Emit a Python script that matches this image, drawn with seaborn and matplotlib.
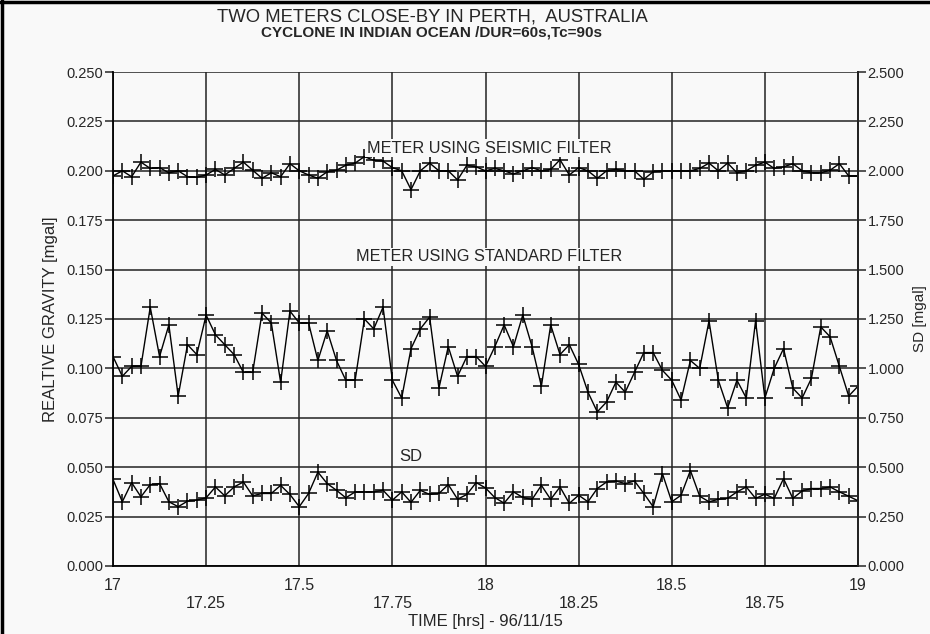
# Two gravity meters close-by in Perth: seismic vs standard filter, with SD

import numpy as np
import pandas as pd
import matplotlib.pyplot as plt
import seaborn as sns

# ==============================================
# Data (90 s steps, 17 h -> 19 h)
time = np.round(17 + 0.025 * np.arange(81), 3)

seismic = [0.1974, 0.2000, 0.1970, 0.2044, 0.2012, 0.2016, 0.1990, 0.2000, 0.1970, 0.1967,
           0.1979, 0.2007, 0.1979, 0.2012, 0.2044, 0.2003, 0.1962, 0.1990, 0.1970, 0.2036,
           0.2000, 0.1979, 0.1962, 0.1995, 0.2003, 0.2028, 0.2039, 0.2072, 0.2053, 0.2049,
           0.2016, 0.2000, 0.1905, 0.2000, 0.2039, 0.2000, 0.2000, 0.1954, 0.2028, 0.2020,
           0.2000, 0.2012, 0.2000, 0.1984, 0.2000, 0.2016, 0.2000, 0.2007, 0.2056, 0.1979,
           0.2016, 0.2000, 0.1962, 0.2000, 0.2007, 0.2000, 0.2000, 0.1957, 0.1995, 0.2000,
           0.2000, 0.2000, 0.2000, 0.2012, 0.2039, 0.2000, 0.2039, 0.1990, 0.2000, 0.2028,
           0.2044, 0.2012, 0.2020, 0.2036, 0.2000, 0.1990, 0.1990, 0.2003, 0.2036, 0.1974,
           0.1974]

standard = [0.106, 0.096, 0.101, 0.101, 0.131, 0.106, 0.122, 0.086, 0.112, 0.107,
            0.127, 0.117, 0.112, 0.107, 0.098, 0.098, 0.128, 0.123, 0.093, 0.129,
            0.123, 0.123, 0.104, 0.119, 0.104, 0.094, 0.094, 0.125, 0.120, 0.131,
            0.094, 0.085, 0.110, 0.120, 0.126, 0.090, 0.111, 0.096, 0.106, 0.106,
            0.101, 0.111, 0.122, 0.111, 0.127, 0.111, 0.091, 0.122, 0.107, 0.112,
            0.102, 0.088, 0.078, 0.083, 0.093, 0.088, 0.098, 0.108, 0.108, 0.099,
            0.094, 0.084, 0.104, 0.100, 0.124, 0.094, 0.080, 0.094, 0.085, 0.124,
            0.085, 0.100, 0.110, 0.090, 0.085, 0.095, 0.121, 0.116, 0.101, 0.086,
            0.091]

# SD in mgal (right axis)
sd = [0.438, 0.325, 0.422, 0.350, 0.412, 0.417, 0.325, 0.300, 0.328, 0.333,
      0.345, 0.400, 0.355, 0.400, 0.425, 0.355, 0.367, 0.367, 0.408, 0.362,
      0.300, 0.367, 0.475, 0.417, 0.383, 0.345, 0.375, 0.375, 0.375, 0.383,
      0.333, 0.375, 0.322, 0.383, 0.362, 0.367, 0.412, 0.338, 0.362, 0.422,
      0.395, 0.346, 0.318, 0.375, 0.347, 0.337, 0.408, 0.337, 0.400, 0.317,
      0.358, 0.325, 0.392, 0.425, 0.430, 0.417, 0.430, 0.367, 0.300, 0.467,
      0.325, 0.358, 0.483, 0.353, 0.325, 0.337, 0.342, 0.375, 0.400, 0.342,
      0.363, 0.342, 0.442, 0.342, 0.380, 0.392, 0.392, 0.400, 0.375, 0.353,
      0.330]

xticks = [17, 17.25, 17.5, 17.75, 18, 18.25, 18.5, 18.75, 19]
xticklabels = ['17', '\n17.25', '17.5', '\n17.75', '18', '\n18.25', '18.5', '\n18.75', '19']

df = pd.DataFrame({'time': time, 'seismic': seismic, 'standard': standard, 'sd': sd})

# ==============================================
# Plot it
sns.set_style('white')
plt.rcParams['font.family'] = ['Liberation Sans', 'DejaVu Sans']

fig = plt.figure(figsize=(9.3, 6.34), dpi=100)
fig.patch.set_facecolor('#f9f9f9')
ax = fig.add_axes([0.1215, 0.1073, 0.8011, 0.7791])
ax.set_facecolor('#f9f9f9')

line_kw = dict(color='black', lw=1.0, marker='+', ms=12, mew=1.1, mec='black')
sns.lineplot(data=df, x='time', y='seismic', ax=ax, **line_kw)
sns.lineplot(data=df, x='time', y='standard', ax=ax, **line_kw)

ax.set_xlim(17, 19)
ax.set_ylim(0, 0.25)
ax.set_yticks(np.arange(0, 0.2501, 0.025))
ax.set_yticklabels(['%.3f' % v for v in np.arange(0, 0.2501, 0.025)])
ax.set_xticks(xticks)
ax.set_xticklabels(xticklabels)
ax.grid(True, color='#222222', lw=1.1)
ax.tick_params(axis='x', direction='out', length=9, width=1.1, labelsize=11.5, pad=0)
ax.tick_params(axis='y', direction='out', length=6, width=1.1, labelsize=10.5, pad=1)
for s in ['left', 'bottom', 'right']:
    ax.spines[s].set_color('black')
    ax.spines[s].set_linewidth(1.3)
ax.spines['top'].set_visible(False)
ax.set_xlabel('TIME [hrs] - 96/11/15', fontsize=12, labelpad=2)
ax.set_ylabel('REALTIVE GRAVITY [mgal]', fontsize=12, labelpad=6)

ax2 = ax.twinx()
sns.lineplot(data=df, x='time', y='sd', ax=ax2, **line_kw)
ax2.set_ylim(0, 2.5)
ax2.set_yticks(np.arange(0, 2.501, 0.25))
ax2.set_yticklabels(['%.3f' % v for v in np.arange(0, 2.501, 0.25)])
ax2.tick_params(axis='y', direction='out', length=6, width=1.1, labelsize=10.5, pad=1)
ax2.grid(False)
for s in ['top', 'left', 'bottom']:
    ax2.spines[s].set_visible(False)
ax2.spines['right'].set_linewidth(1.3)
ax2.set_ylabel('SD [mgal]', fontsize=11, rotation=90, labelpad=6)

# series labels
box = dict(facecolor='#f9f9f9', edgecolor='none', pad=1)
ax.text(18.01, 0.2115, 'METER USING SEISMIC FILTER', ha='center', va='center',
        fontsize=11.7, bbox=box)
ax.text(18.01, 0.1565, 'METER USING STANDARD FILTER', ha='center', va='center',
        fontsize=11.7, bbox=box)
ax.text(17.80, 0.0555, 'SD', ha='center', va='center', fontsize=12)

fig.text(0.4645, 0.973, 'TWO METERS CLOSE-BY IN PERTH,  AUSTRALIA', ha='center', va='center',
         fontsize=13.3)
fig.text(0.4645, 0.949, 'CYCLONE IN INDIAN OCEAN /DUR=60s,Tc=90s', ha='center', va='center',
         fontsize=11, weight='bold')

# scan border
fig.add_artist(plt.Line2D([0, 1], [0.997, 0.997], color='black', lw=2.5, transform=fig.transFigure))
fig.add_artist(plt.Line2D([0.002, 0.002], [0, 1], color='black', lw=2.5, transform=fig.transFigure))

plt.savefig('out.png', dpi=100, facecolor=fig.get_facecolor())
